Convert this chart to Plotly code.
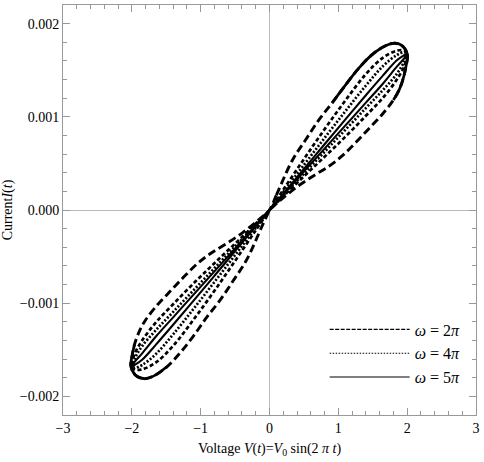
import plotly.graph_objects as go

# ---- Data (V in volts, I in amperes) ----
# Widest loop (long dashes), first-quadrant lobe, traced in time order
L_V_q1 = [0, 0.1, 0.336, 0.528, 0.72, 0.911, 1.103, 1.295, 1.487, 1.679, 1.82, 1.94, 2.005,
          1.985, 1.95, 1.89, 1.80, 1.63, 1.44, 1.247, 1.055, 0.863, 0.624, 0.384, 0.15, 0]
L_I_q1 = [0, 0.00016, 0.00054, 0.000756, 0.00097, 0.00115, 0.00134, 0.00152, 0.001665, 0.00176, 0.00179, 0.001755, 0.00166,
          0.00155, 0.00143, 0.0013, 0.00118, 0.00102, 0.00087, 0.00072, 0.00058, 0.00047, 0.00036, 0.00024, 0.0001, 0]
# Widest loop, third-quadrant lobe
L_V_q3 = [0, -0.1, -0.336, -0.528, -0.72, -0.911, -1.103, -1.295, -1.487, -1.679, -1.82, -1.95, -2.015,
          -1.995, -1.96, -1.89, -1.80, -1.63, -1.44, -1.247, -1.055, -0.863, -0.624, -0.384, -0.15, 0]
L_I_q3 = [0, -0.00016, -0.00054, -0.00076, -0.00097, -0.00115, -0.00135, -0.00153, -0.00168, -0.00178, -0.00181, -0.00177, -0.00167,
          -0.00156, -0.00144, -0.0013, -0.00118, -0.00102, -0.00087, -0.00072, -0.00058, -0.00047, -0.00036, -0.00024, -0.0001, 0]

# Narrower loops share voltage samples
V_q1 = [0, 0.2, 0.5, 0.8, 1.1, 1.4, 1.65, 1.85, 1.96, 2.0, 1.96, 1.85, 1.65, 1.4, 1.1, 0.8, 0.5, 0.2, 0]
V_q3 = [0, -0.2, -0.5, -0.8, -1.1, -1.4, -1.65, -1.85, -1.96, -2.0, -1.96, -1.85, -1.65, -1.4, -1.1, -0.8, -0.5, -0.2, 0]

# omega = 2 pi (dashed)
S_I_q1 = [0, 0.000218, 0.000546, 0.000867, 0.001173, 0.001458, 0.001636, 0.00171, 0.001712, 0.00168,
          0.001547, 0.0014, 0.001206, 0.001011, 0.000785, 0.000571, 0.000361, 0.000148, 0]
S_I_q3 = [0, -0.000218, -0.000546, -0.000867, -0.001173, -0.001458, -0.001636, -0.00171, -0.001712, -0.00168,
          -0.001547, -0.0014, -0.001206, -0.001011, -0.000785, -0.000571, -0.000361, -0.000148, 0]
# omega = 4 pi (dotted)
D_I_q1 = [0, 0.000193, 0.000483, 0.000773, 0.001058, 0.001335, 0.001545, 0.001663, 0.001695, 0.00168,
          0.001597, 0.001461, 0.001289, 0.001094, 0.000859, 0.000625, 0.000391, 0.000158, 0]
D_I_q3 = [0, -0.000193, -0.000483, -0.000773, -0.001058, -0.001335, -0.001545, -0.001663, -0.001695, -0.00168,
          -0.001597, -0.001461, -0.001289, -0.001094, -0.000859, -0.000625, -0.000391, -0.000158, 0]
# omega = 5 pi (solid)
M_I_q1 = [0, 0.000176, 0.000441, 0.000706, 0.00097, 0.001232, 0.001445, 0.001607, 0.001664, 0.00168,
          0.00163, 0.001538, 0.001358, 0.001152, 0.000905, 0.000659, 0.000412, 0.000165, 0]
M_I_q3 = [0, -0.000176, -0.000441, -0.000706, -0.00097, -0.001232, -0.001445, -0.001607, -0.001664, -0.00168,
          -0.00163, -0.001538, -0.001358, -0.001152, -0.000905, -0.000659, -0.000412, -0.000165, 0]

legend_labels = ["<i>ω</i> = 2<i>π</i>", "<i>ω</i> = 4<i>π</i>", "<i>ω</i> = 5<i>π</i>"]

SERIF = "Liberation Serif, Times New Roman, serif"
fig = go.Figure()

def loop(x, y, dash, width):
    fig.add_trace(go.Scatter(x=x, y=y, mode="lines", showlegend=False, hoverinfo="skip",
                             line=dict(color="black", width=width, dash=dash, shape="spline", smoothing=1.0)))

loop(L_V_q1 + L_V_q3, L_I_q1 + L_I_q3, "8px,4px", 2.9)
# parts of the widest loop that render solid near the caps
loop(L_V_q1[5:17], L_I_q1[5:17], "solid", 2.7)
loop(L_V_q3[8:15], L_I_q3[8:15], "solid", 2.7)
loop(V_q1 + V_q3, S_I_q1 + S_I_q3, "4px,2.5px", 2.7)
loop(V_q1 + V_q3, D_I_q1 + D_I_q3, "2px,1.8px", 2.7)
loop(V_q1 + V_q3, M_I_q1 + M_I_q3, "solid", 2.1)

# legend entries (thin sample lines)
for lab, dash, g in zip(legend_labels, ["4px,1.5px", "1.5px,1.5px", "solid"], ["a", "b", "c"]):
    fig.add_trace(go.Scatter(x=[None], y=[None], mode="lines", name=lab, legendgroup=g,
                             line=dict(color="black", width=1.1, dash=dash)))

axis_common = dict(
    showline=True, linecolor="#999999", linewidth=1, mirror="ticks",
    ticks="inside", ticklen=7, tickcolor="#999999", tickwidth=1,
    showgrid=False, zeroline=True, zerolinecolor="#bbbbbb", zerolinewidth=1,
    tickfont=dict(family=SERIF, size=14, color="black"),
)
fig.update_xaxes(range=[-3, 3], dtick=1,
                 minor=dict(ticks="inside", ticklen=4, dtick=0.2, tickcolor="#999999"),
                 title=dict(text="Voltage <i>V</i>(<i>t</i>)=<i>V</i><sub>0</sub> sin(2 <i>π t</i>)",
                            font=dict(family=SERIF, size=14, color="black"), standoff=8),
                 **axis_common)
fig.update_yaxes(range=[-0.0022, 0.0022], dtick=0.001, tickformat=".3f",
                 minor=dict(ticks="inside", ticklen=4, dtick=0.0002, tickcolor="#999999"),
                 title=dict(text="Current<i>I</i>(<i>t</i>)",
                            font=dict(family=SERIF, size=14, color="black"), standoff=6),
                 **axis_common)

fig.update_layout(
    width=484, height=462,
    margin=dict(l=63, r=5, t=4, b=47),
    plot_bgcolor="white", paper_bgcolor="white",
    legend=dict(x=0.975, y=0.25, xanchor="right", yanchor="top", itemwidth=80,
                font=dict(family=SERIF, size=16, color="black"), bgcolor="rgba(0,0,0,0)",
                traceorder="grouped", tracegroupgap=0),
)

fig.write_html("out.html", config={"displayModeBar": False},
               post_script="document.body.style.margin='0px';")
